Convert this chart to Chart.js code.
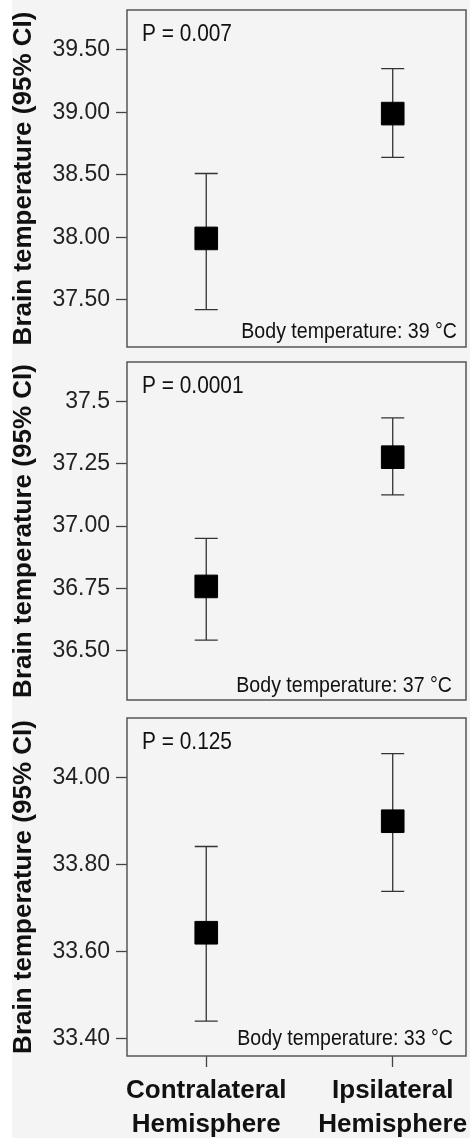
<!DOCTYPE html>
<html>
<head>
<meta charset="utf-8">
<script src="https://cdn.jsdelivr.net/npm/chart.js@4.4.1/dist/chart.umd.min.js"></script>
<style>
  body { margin: 0; background: #f4f4f4; }
  #wrap { position: relative; width: 470px; height: 1138px; background: #f4f4f4; overflow: hidden; }
  .strip { position: absolute; left: 0; top: 0; width: 12px; height: 1138px; background: #fff; }
  .panel { position: absolute; left: 0; width: 470px; }
</style>
</head>
<body>
<div id="wrap">
  <div class="strip"></div>
  <div class="panel" style="top:0;height:354px"><canvas id="chart39"></canvas></div>
  <div class="panel" style="top:354px;height:354px"><canvas id="chart37"></canvas></div>
  <div class="panel" style="top:708px;height:430px"><canvas id="chart33"></canvas></div>
</div>
<script>
const categories = [['Contralateral', 'Hemisphere'], ['Ipsilateral', 'Hemisphere']];
const categoryX = [0, 1];
const yTitle = 'Brain temperature (95% CI)';

const mean39 = [37.99, 38.99];
const low39 = [37.42, 38.64];
const high39 = [38.51, 39.35];
const ticks39 = [39.5, 39.0, 38.5, 38.0, 37.5];
const tickLabels39 = ['39.50', '39.00', '38.50', '38.00', '37.50'];

const mean37 = [36.757, 37.277];
const low37 = [36.541, 37.125];
const high37 = [36.95, 37.435];
const ticks37 = [37.5, 37.25, 37.0, 36.75, 36.5];
const tickLabels37 = ['37.5', '37.25', '37.00', '36.75', '36.50'];

const mean33 = [33.643, 33.899];
const low33 = [33.44, 33.738];
const high33 = [33.841, 34.054];
const ticks33 = [34.0, 33.8, 33.6, 33.4];
const tickLabels33 = ['34.00', '33.80', '33.60', '33.40'];

const pTexts = ['P = 0.007', 'P = 0.0001', 'P = 0.125'];
const bodyTexts = ['Body temperature: 39 \u00B0C', 'Body temperature: 37 \u00B0C', 'Body temperature: 33 \u00B0C'];

const errorBars = {
    id: 'errorBars',
    beforeDatasetsDraw(chart, args, opts) {
        let ctx = chart.ctx;
        let xs = chart.scales.x, ys = chart.scales.y;
        ctx.save();
        ctx.strokeStyle = '#333';
        ctx.lineWidth = 1.3;
        opts.low.forEach((lo, i) => {
            let px = xs.getPixelForValue(categoryX[i]);
            let top = ys.getPixelForValue(opts.high[i]);
            let bottom = ys.getPixelForValue(lo);
            ctx.beginPath();
            ctx.moveTo(px, top);
            ctx.lineTo(px, bottom);
            ctx.moveTo(px - 11.5, top);
            ctx.lineTo(px + 11.5, top);
            ctx.moveTo(px - 11.5, bottom);
            ctx.lineTo(px + 11.5, bottom);
            ctx.stroke();
        });
        ctx.restore();
    }
};

const frame = {
    id: 'frame',
    afterDraw(chart, args, opts) {
        let a = chart.chartArea, ctx = chart.ctx;
        ctx.save();
        ctx.strokeStyle = '#555';
        ctx.lineWidth = 1.5;
        ctx.strokeRect(a.left, a.top, a.right - a.left, a.bottom - a.top);
        ctx.fillStyle = '#111';
        ctx.textBaseline = 'alphabetic';
        ctx.font = '24px "Liberation Sans", Arial, sans-serif';
        ctx.save();
        ctx.translate(a.left + 15, a.top + 31);
        ctx.scale(0.87, 1);
        ctx.textAlign = 'left';
        ctx.fillText(opts.p, 0, 0);
        ctx.restore();
        ctx.font = '22px "Liberation Sans", Arial, sans-serif';
        ctx.translate(a.right - opts.bodyRight, a.bottom - opts.bodyBottom);
        ctx.scale(0.89, 1);
        ctx.textAlign = 'right';
        ctx.fillText(opts.body, 0, 0);
        ctx.restore();
    }
};

function createPanel(id, cfg) {
    new Chart(id, {
        type: 'scatter',
        data: {
            datasets: [{
                data: cfg.mean.map((m, i) => ({ x: categoryX[i], y: m })),
                pointStyle: 'rect',
                pointRadius: 16,
                pointHoverRadius: 16,
                backgroundColor: '#000',
                borderColor: '#000',
                borderWidth: 1
            }]
        },
        options: {
            responsive: true,
            maintainAspectRatio: false,
            animation: false,
            layout: { autoPadding: false, padding: cfg.padding },
            plugins: {
                legend: { display: false },
                tooltip: { enabled: false },
                errorBars: { low: cfg.low, high: cfg.high },
                frame: { p: cfg.p, body: cfg.body, bodyRight: cfg.bodyRight, bodyBottom: cfg.bodyBottom }
            },
            scales: {
                x: {
                    type: 'linear',
                    display: cfg.showX,
                    min: -0.425,
                    max: 1.393,
                    afterBuildTicks: scale => { scale.ticks = categoryX.map(v => ({ value: v })); },
                    afterFit: scale => {
                        scale.height = cfg.showX ? 82 : 0;
                        scale.paddingLeft = 0;
                        scale.paddingRight = 0;
                    },
                    border: { display: false },
                    grid: { drawOnChartArea: false, tickLength: 11, tickColor: '#444', tickWidth: 1.3 },
                    ticks: {
                        autoSkip: false,
                        maxRotation: 0,
                        padding: 7,
                        color: '#111',
                        font: { family: '"Liberation Sans", Arial, sans-serif', size: 26, weight: 'bold', lineHeight: 1.3 },
                        callback: (v, i) => categories[i]
                    }
                },
                y: {
                    min: cfg.yMin,
                    max: cfg.yMax,
                    afterBuildTicks: scale => { scale.ticks = cfg.ticks.map(v => ({ value: v })); },
                    afterFit: scale => { scale.width = 127; scale.paddingTop = 0; scale.paddingBottom = 0; },
                    border: { display: false },
                    grid: { drawOnChartArea: false, tickLength: 11, tickColor: '#444', tickWidth: 1.3 },
                    ticks: {
                        padding: 6,
                        color: '#222',
                        font: { family: '"Liberation Sans", Arial, sans-serif', size: 23 },
                        callback: (v, i) => cfg.tickLabels[i]
                    },
                    title: {
                        display: true,
                        text: yTitle,
                        color: '#111',
                        padding: { top: 8, bottom: 0 },
                        font: { family: '"Liberation Sans", Arial, sans-serif', size: 26, weight: 'bold' }
                    }
                }
            }
        },
        plugins: [errorBars, frame]
    });
}

createPanel('chart39', {
    mean: mean39, low: low39, high: high39, ticks: ticks39, tickLabels: tickLabels39,
    yMin: 37.12, yMax: 39.82, p: pTexts[0], body: bodyTexts[0], bodyRight: 9, bodyBottom: 9,
    showX: false, padding: { left: 0, right: 4, top: 10, bottom: 7 }
});
createPanel('chart37', {
    mean: mean37, low: low37, high: high37, ticks: ticks37, tickLabels: tickLabels37,
    yMin: 36.30, yMax: 37.66, p: pTexts[1], body: bodyTexts[1], bodyRight: 14, bodyBottom: 8,
    showX: false, padding: { left: 0, right: 4, top: 8, bottom: 8 }
});
createPanel('chart33', {
    mean: mean33, low: low33, high: high33, ticks: ticks33, tickLabels: tickLabels33,
    yMin: 33.36, yMax: 34.136, p: pTexts[2], body: bodyTexts[2], bodyRight: 13, bodyBottom: 11,
    showX: true, padding: { left: 0, right: 4, top: 10, bottom: 0 }
});
</script>
</body>
</html>
